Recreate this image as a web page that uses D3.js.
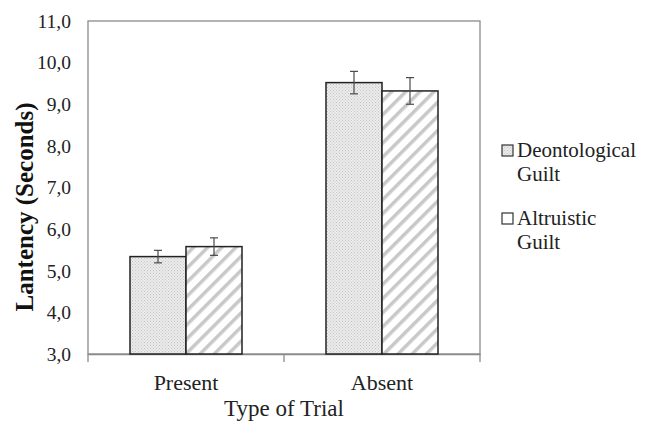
<!DOCTYPE html>
<html><head><meta charset="utf-8">
<script src="https://cdn.jsdelivr.net/npm/d3@7"></script>
<style>body{margin:0;background:#fff} svg text{font-family:"Liberation Serif","Times New Roman",Times,serif !important;}</style>
</head><body>
<svg id="c" width="651" height="424"></svg>
<script>
const categories = ["Present", "Absent"];
const seriesNames = ["Deontological Guilt", "Altruistic Guilt"];
const deontological = [5.34, 9.52];
const deontologicalErr = [0.15, 0.27];
const altruistic = [5.58, 9.32];
const altruisticErr = [0.21, 0.32];
const yTicks = [3, 4, 5, 6, 7, 8, 9, 10, 11];

const svg = d3.select("#c");
const m = {l: 88, r: 480, t: 21, b: 354};

const defs = svg.append("defs");
const dots = defs.append("pattern").attr("id","dots").attr("patternUnits","userSpaceOnUse").attr("width",3).attr("height",3);
dots.append("rect").attr("width",3).attr("height",3).attr("fill","#ececec");
dots.append("rect").attr("width",1).attr("height",1).attr("fill","#c4c4c4");
dots.append("rect").attr("x",1.5).attr("y",1.5).attr("width",1).attr("height",1).attr("fill","#c4c4c4");
const stripes = defs.append("pattern").attr("id","stripes").attr("patternUnits","userSpaceOnUse")
  .attr("width",10).attr("height",10).attr("patternTransform","rotate(45)");
stripes.append("rect").attr("width",10).attr("height",10).attr("fill","#fff");
stripes.append("rect").attr("width",3.5).attr("height",10).attr("fill","#c8c8c8");

const x = d3.scaleBand().domain(categories).range([m.l, m.r]);
const xs = d3.scaleBand().domain(seriesNames).range([0, x.bandwidth()]).paddingInner(0).paddingOuter(0.75);
const y = d3.scaleLinear().domain([3, 11]).range([m.b, m.t]);

svg.append("rect").attr("x",m.l).attr("y",m.t).attr("width",m.r-m.l).attr("height",m.b-m.t)
  .attr("fill","none").attr("stroke","#8a8a8a").attr("stroke-width",1.3);

const ya = svg.append("g").attr("transform",`translate(${m.l},0)`)
  .call(d3.axisLeft(y).tickValues(yTicks).tickSize(0).tickPadding(17).tickFormat(d => d3.format(".1f")(d).replace(".", ",")));
ya.select(".domain").remove();
ya.selectAll("text").attr("font-size",19.5).attr("fill","#222");

const xa = svg.append("g").attr("transform",`translate(0,${m.b})`)
  .call(d3.axisBottom(x).tickSize(0).tickPadding(20));
xa.select(".domain").attr("stroke","#8a8a8a").attr("stroke-width",1.3);
xa.selectAll("text").attr("font-size",22).attr("fill","#222");
[m.l, x("Absent"), m.r].forEach(px => {
  svg.append("line").attr("x1",px).attr("x2",px).attr("y1",m.b).attr("y2",m.b+8).attr("stroke","#8a8a8a").attr("stroke-width",1.3);
});

const series = [
  {name: seriesNames[0], vals: deontological, errs: deontologicalErr, fill: "url(#dots)"},
  {name: seriesNames[1], vals: altruistic, errs: altruisticErr, fill: "url(#stripes)"}
];
series.forEach(s => {
  categories.forEach((c, i) => {
    const bx = x(c) + xs(s.name);
    svg.append("rect").attr("x",bx).attr("y",y(s.vals[i])).attr("width",xs.bandwidth()).attr("height",y(3)-y(s.vals[i]))
      .attr("fill",s.fill).attr("stroke","#222").attr("stroke-width",1.5);
  });
});
series.forEach(s => {
  categories.forEach((c, i) => {
    const cx = x(c) + xs(s.name) + xs.bandwidth()/2;
    const g = svg.append("g").attr("stroke","#4a4a4a").attr("stroke-width",1.2);
    g.append("line").attr("x1",cx).attr("x2",cx).attr("y1",y(s.vals[i]+s.errs[i])).attr("y2",y(s.vals[i]-s.errs[i]));
    [s.vals[i]+s.errs[i], s.vals[i]-s.errs[i]].forEach(v => {
      g.append("line").attr("x1",cx-4).attr("x2",cx+4).attr("y1",y(v)).attr("y2",y(v));
    });
  });
});

svg.append("text").attr("transform",`translate(33,207) rotate(-90)`).attr("text-anchor","middle")
  .attr("font-size",25).attr("font-weight","bold").attr("fill","#111").text("Lantency (Seconds)");
svg.append("text").attr("x",(m.l+m.r)/2).attr("y",416).attr("text-anchor","middle")
  .attr("font-size",23).attr("fill","#222").text("Type of Trial");

const leg = [{fill:"url(#dots)", lines:["Deontological","Guilt"], y:150},{fill:"#fff", lines:["Altruistic","Guilt"], y:218}];
leg.forEach(l => {
  svg.append("rect").attr("x",502).attr("y",l.y-5).attr("width",11).attr("height",11)
    .attr("fill",l.fill).attr("stroke","#333").attr("stroke-width",1.2);
  l.lines.forEach((t, k) => {
    svg.append("text").attr("x",517).attr("y",l.y+7+k*24).attr("font-size",21).attr("fill","#222").text(t);
  });
});
</script>
</body></html>
